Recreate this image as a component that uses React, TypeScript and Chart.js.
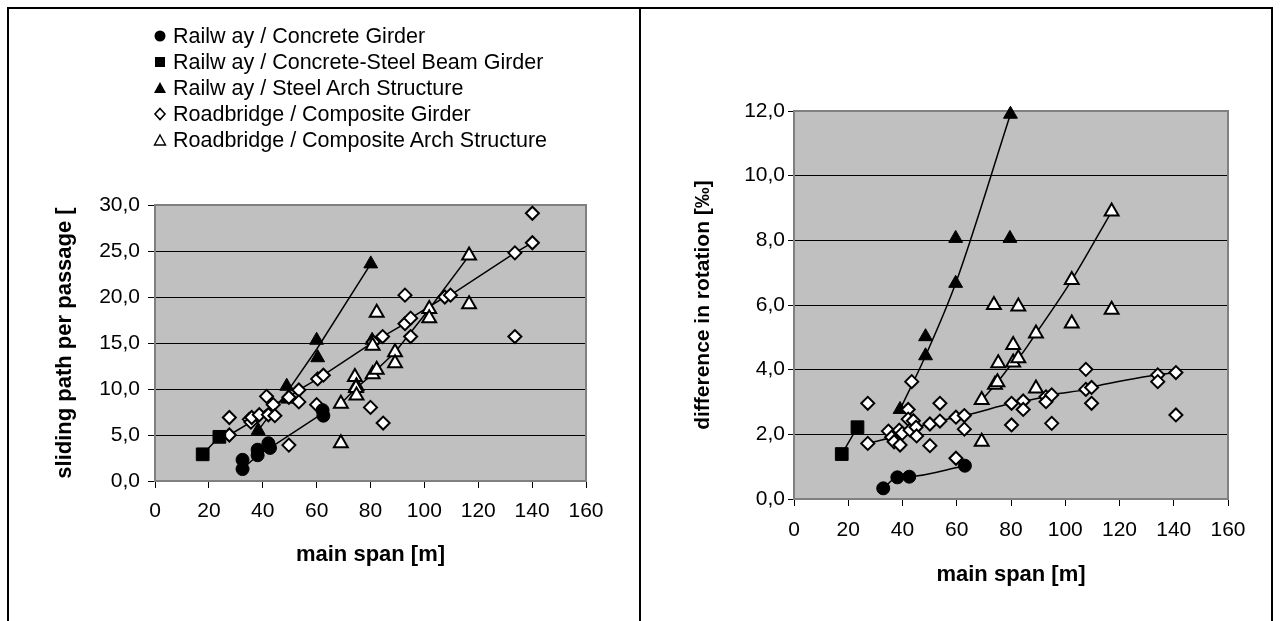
import React, { useEffect, useRef } from 'react';
import { Chart, registerables } from 'chart.js';

Chart.register(...registerables);

const FONT = "'Liberation Sans', Arial, Helvetica, sans-serif";

// ---------- data: sliding path per passage (left chart) ----------
const slideRailConcrete = [[32.5, 2.3], [32.5, 1.3], [38.1, 3.4], [38.1, 2.8], [42.1, 4.1], [42.7, 3.6], [62.2, 7.7], [62.5, 7.1]];
const slideRailComposite = [[17.7, 2.9], [23.9, 4.8]];
const slideRailArch = [[38.3, 5.5], [48.9, 10.3], [49.2, 8.9], [60.0, 15.3], [60.4, 13.4], [80.6, 15.3], [80.1, 23.6]];
const slideRoadGirder = [
  [27.6, 6.9], [27.6, 5.0], [35.0, 6.7], [35.6, 6.4], [35.9, 6.9], [38.7, 7.2], [41.4, 9.2], [42.1, 7.2],
  [43.9, 8.3], [44.5, 7.1], [49.7, 9.1], [49.7, 3.9], [53.4, 9.9], [53.4, 8.6], [60.0, 8.3], [60.4, 11.1],
  [62.5, 11.5], [80.0, 8.0], [81.0, 15.1], [84.5, 15.7], [84.7, 6.3], [92.8, 20.2], [92.8, 17.1], [94.9, 17.7],
  [94.9, 15.7], [107.6, 20.0], [109.7, 20.2], [133.6, 24.8], [133.6, 15.7], [140.1, 29.1], [140.1, 25.9],
];
const slideRoadArch = [
  [69.0, 8.4], [69.0, 4.1], [74.2, 11.3], [74.8, 10.3], [74.6, 10.1], [74.8, 9.3], [80.8, 14.7], [80.8, 11.6],
  [82.3, 18.3], [82.3, 12.1], [89.1, 14.0], [89.1, 12.8], [101.8, 18.7], [101.8, 17.7], [116.6, 24.5], [116.6, 19.2],
];
const slideLineRailConcrete = [[32.5, 1.3], [38.1, 2.8], [42.7, 3.6], [62.5, 7.4]];
const slideLineRailComposite = [[17.7, 2.9], [23.9, 4.8]];
const slideLineRailArch = [[38.3, 5.5], [48.9, 9.6], [60.2, 14.4], [80.1, 23.6]];
const slideLineRoadGirder = [
  [27.6, 5.0], [35.6, 6.4], [38.7, 7.2], [43.9, 8.3], [49.7, 9.1], [53.4, 9.9], [60.4, 11.1], [62.5, 11.5],
  [81.0, 15.1], [84.5, 15.7], [92.8, 17.1], [94.9, 17.7], [107.6, 20.0], [109.7, 20.2], [133.6, 24.8], [140.1, 25.9],
];
const slideLineRoadArch = [[69.0, 8.4], [74.6, 10.1], [80.8, 11.6], [82.3, 12.1], [89.1, 14.0], [101.8, 18.7], [116.6, 24.5]];

// ---------- data: difference in rotation (right chart) ----------
const rotRailConcrete = [[32.9, 0.33], [38.1, 0.67], [42.5, 0.69], [63.0, 1.03]];
const rotRailComposite = [[17.6, 1.39], [23.4, 2.22]];
const rotRailArch = [[39.1, 2.77], [48.5, 4.43], [48.5, 5.02], [59.6, 6.67], [59.6, 8.06], [79.6, 8.06], [79.8, 11.9]];
const rotRoadGirder = [
  [27.2, 2.96], [27.2, 1.72], [34.8, 2.1], [36.0, 1.91], [36.9, 1.77], [38.8, 2.13], [39.1, 1.67], [39.9, 2.03],
  [42.1, 2.77], [42.1, 2.47], [43.4, 3.63], [42.8, 2.13], [44.0, 2.42], [45.0, 2.22], [45.2, 1.95], [50.1, 2.32],
  [50.1, 1.65], [53.8, 2.96], [53.8, 2.41], [59.7, 2.53], [59.7, 1.26], [62.8, 2.58], [62.8, 2.16], [80.2, 2.96],
  [80.2, 2.29], [84.5, 3.03], [84.5, 2.77], [92.9, 3.16], [92.9, 3.01], [95.0, 3.22], [95.0, 2.34], [107.6, 4.01],
  [107.6, 3.39], [109.7, 3.45], [109.7, 2.96], [134.1, 3.84], [134.1, 3.63], [140.8, 3.91], [140.8, 2.6],
];
const rotRoadArch = [
  [69.2, 3.06], [69.2, 1.77], [73.7, 6.0], [74.1, 3.53], [75.0, 3.61], [75.3, 4.2], [80.8, 4.76], [80.8, 4.22],
  [82.7, 5.95], [82.7, 4.35], [89.2, 5.12], [89.2, 3.42], [102.4, 6.77], [102.4, 5.43], [117.1, 8.89], [117.1, 5.85],
];
const rotLineRailConcrete = [[32.9, 0.33], [38.1, 0.67], [42.5, 0.69], [63.0, 1.03]];
const rotLineRailComposite = [[17.6, 1.39], [23.4, 2.22]];
const rotLineRailArch = [[39.1, 2.77], [48.5, 4.43], [59.6, 6.67], [79.8, 11.9]];
const rotLineRoadGirder = [
  [27.2, 1.72], [36.0, 1.91], [39.9, 2.03], [45.0, 2.22], [50.1, 2.32], [53.8, 2.41], [59.7, 2.53], [62.8, 2.58],
  [80.2, 2.96], [84.5, 3.03], [92.9, 3.16], [95.0, 3.22], [107.6, 3.39], [109.7, 3.45], [134.1, 3.84], [140.8, 3.91],
];
const rotLineRoadArch = [[69.2, 3.06], [75.0, 3.61], [80.8, 4.22], [82.7, 4.35], [89.2, 5.12], [102.4, 6.77], [117.1, 8.89]];

const legendLabels = [
  'Railw ay / Concrete Girder',
  'Railw ay / Concrete-Steel Beam Girder',
  'Railw ay / Steel Arch Structure',
  'Roadbridge / Composite Girder',
  'Roadbridge / Composite Arch Structure',
];

const xAxisTitle = 'main span [m]';
const leftYTitle = 'sliding path per passage [';
const rightYTitle = 'difference in rotation [‰]';

// marker styles per series (same order as legendLabels)
const MARKERS = [
  { style: 'circle', r: 6.5, fill: '#000', bw: 1, order: 1 },
  { style: 'rect', r: 9, fill: '#000', bw: 1, order: 2 },
  { style: 'triangle', r: 8, fill: '#000', bw: 1, order: 5 },
  { style: 'rectRot', r: 6.5, fill: '#fff', bw: 2, order: 4 },
  { style: 'triangle', r: 8, fill: '#fff', bw: 2, order: 3 },
];

const toPts = (a: number[][]) => a.map(([x, y]) => ({ x, y }));
const comma = (v: number) => Number(v).toFixed(1).replace('.', ',');

const plotFrame = {
  id: 'plotFrame',
  beforeDraw(chart: any) {
    const { ctx, chartArea: a } = chart;
    ctx.save();
    ctx.fillStyle = '#c0c0c0';
    ctx.fillRect(a.left, a.top, a.right - a.left, a.bottom - a.top);
    ctx.restore();
  },
  beforeDatasetsDraw(chart: any) {
    const { ctx, chartArea: a } = chart;
    ctx.save();
    ctx.strokeStyle = '#808080';
    ctx.lineWidth = 2;
    ctx.beginPath();
    ctx.moveTo(a.left, a.top);
    ctx.lineTo(a.right, a.top);
    ctx.lineTo(a.right, a.bottom);
    ctx.stroke();
    ctx.restore();
  },
};

interface PanelProps {
  series: number[][][];
  lines: number[][][];
  smooth: boolean;
  yMax: number;
  yStep: number;
  yTitle: string;
  yTitleSize: number;
  left: number;
  top: number;
  width: number;
  height: number;
  area: { left: number; top: number; right: number; bottom: number };
  yTitleX: number;
  xTitleY: number;
  xLabelPad: number;
  yTickLen: number;
  yTickPad: number;
}

function Panel(p: PanelProps) {
  const ref = useRef<HTMLCanvasElement | null>(null);
  useEffect(() => {
    if (!ref.current) return;
    const datasets: any[] = [];
    p.series.forEach((s, i) => {
      const m = MARKERS[i];
      datasets.push({
        label: legendLabels[i],
        data: toPts(s),
        showLine: false,
        pointStyle: m.style,
        pointRadius: m.r,
        pointBackgroundColor: m.fill,
        pointBorderColor: '#000',
        pointBorderWidth: m.bw,
        order: m.order,
        clip: false,
      });
    });
    p.lines.forEach((l, i) => {
      datasets.push({
        label: 'line ' + i,
        data: toPts(l),
        showLine: true,
        pointRadius: 0,
        borderColor: '#000',
        borderWidth: 1.5,
        fill: false,
        tension: p.smooth ? 0.3 : 0,
        cubicInterpolationMode: p.smooth ? 'monotone' : 'default',
        order: 10,
        clip: false,
      });
    });
    const tickFont = { family: FONT, size: 21 };
    const titleFont = { family: FONT, size: 22, weight: 'bold' as const };
    const yTitleFont = { family: FONT, size: p.yTitleSize, weight: 'bold' as const };
    const chart = new Chart(ref.current, {
      type: 'scatter',
      data: { datasets },
      plugins: [plotFrame],
      options: {
        animation: false,
        responsive: false,
        maintainAspectRatio: false,
        events: [],
        layout: { padding: { top: p.area.top, right: p.width - p.area.right, bottom: 0, left: 0 } },
        plugins: { legend: { display: false }, tooltip: { enabled: false } },
        scales: {
          x: {
            type: 'linear',
            min: 0,
            max: 160,
            ticks: { stepSize: 20, color: '#000', font: tickFont, padding: p.xLabelPad, maxRotation: 0, autoSkip: false },
            grid: { drawOnChartArea: false, drawTicks: true, tickLength: 7, tickColor: '#000', tickWidth: 1 },
            border: { display: true, color: '#808080', width: 2 },
            title: {
              display: true,
              text: xAxisTitle,
              color: '#000',
              font: titleFont,
              padding: { top: 0, bottom: p.height - p.xTitleY - 13.2 },
            },
            afterFit: (s: any) => { s.height = p.height - p.area.bottom; },
          },
          y: {
            type: 'linear',
            min: 0,
            max: p.yMax,
            ticks: { stepSize: p.yStep, color: '#000', font: tickFont, padding: p.yTickPad, callback: (v: any) => comma(v) },
            grid: { color: '#000', lineWidth: 1, drawTicks: true, tickLength: p.yTickLen, tickColor: '#000' },
            border: { display: true, color: '#808080', width: 2 },
            title: {
              display: true,
              text: p.yTitle,
              color: '#000',
              font: yTitleFont,
              padding: { top: p.yTitleX - (p.yTitleSize * 1.2) / 2, bottom: 0 },
            },
            afterFit: (s: any) => { s.width = p.area.left; },
          },
        },
      } as any,
    });
    return () => chart.destroy();
  }, []);
  return (
    <canvas
      ref={ref}
      width={p.width}
      height={p.height}
      style={{ position: 'absolute', left: p.left, top: p.top, width: p.width, height: p.height }}
    />
  );
}

function LegendMarker({ i }: { i: number }) {
  const s = 20;
  const c = 10;
  let shape: any = null;
  if (i === 0) shape = <circle cx={c} cy={c} r={5.5} fill="#000" />;
  if (i === 1) shape = <rect x={5} y={5} width={10} height={10} fill="#000" />;
  if (i === 2) shape = <polygon points="10,4 16,15 4,15" fill="#000" />;
  if (i === 3) shape = <polygon points="10,4.5 15,10 10,15.5 5,10" fill="#fff" stroke="#000" strokeWidth={1.6} />;
  if (i === 4) shape = <polygon points="10,5 15.5,15 4.5,15" fill="#fff" stroke="#000" strokeWidth={1.4} />;
  return (
    <svg width={s} height={s} style={{ position: 'absolute', left: 150, top: 3 }}>
      {shape}
    </svg>
  );
}

export default function App() {
  const rowY = [36, 62, 88, 114, 140];
  return (
    <div style={{ position: 'fixed', left: 0, top: 0, width: 1281, height: 621, background: '#fff', overflow: 'hidden' }}>
      {/* panel borders */}
      <div style={{ position: 'absolute', left: 7, top: 7, width: 1266, height: 2, background: '#000' }} />
      <div style={{ position: 'absolute', left: 7, top: 7, width: 2, height: 620, background: '#000' }} />
      <div style={{ position: 'absolute', left: 639, top: 7, width: 2, height: 620, background: '#000' }} />
      <div style={{ position: 'absolute', left: 1271, top: 7, width: 2, height: 620, background: '#000' }} />

      <Panel
        series={[slideRailConcrete, slideRailComposite, slideRailArch, slideRoadGirder, slideRoadArch]}
        lines={[slideLineRailConcrete, slideLineRailComposite, slideLineRailArch, slideLineRoadGirder, slideLineRoadArch]}
        smooth={false}
        yMax={30}
        yStep={5}
        yTitle={leftYTitle}
        yTitleSize={22}
        left={10}
        top={10}
        width={628}
        height={611}
        area={{ left: 145, top: 195, right: 576, bottom: 471 }}
        yTitleX={55}
        xTitleY={545}
        xLabelPad={11}
        yTickLen={7}
        yTickPad={8}
      />
      <Panel
        series={[rotRailConcrete, rotRailComposite, rotRailArch, rotRoadGirder, rotRoadArch]}
        lines={[rotLineRailConcrete, rotLineRailComposite, rotLineRailArch, rotLineRoadGirder, rotLineRoadArch]}
        smooth={true}
        yMax={12}
        yStep={2}
        yTitle={rightYTitle}
        yTitleSize={21}
        left={642}
        top={10}
        width={629}
        height={611}
        area={{ left: 152, top: 101, right: 586, bottom: 489 }}
        yTitleX={61}
        xTitleY={565}
        xLabelPad={12}
        yTickLen={6}
        yTickPad={3}
      />

      {/* legend */}
      {legendLabels.map((t, i) => (
        <div
          key={t}
          style={{
            position: 'absolute',
            left: 0,
            top: rowY[i] - 13,
            height: 26,
            width: 620,
            fontFamily: FONT,
            fontSize: 21.5,
            lineHeight: '26px',
            color: '#000',
            whiteSpace: 'pre',
          }}
        >
          <LegendMarker i={i} />
          <span style={{ position: 'absolute', left: 173, top: 0 }}>{t}</span>
        </div>
      ))}
    </div>
  );
}
